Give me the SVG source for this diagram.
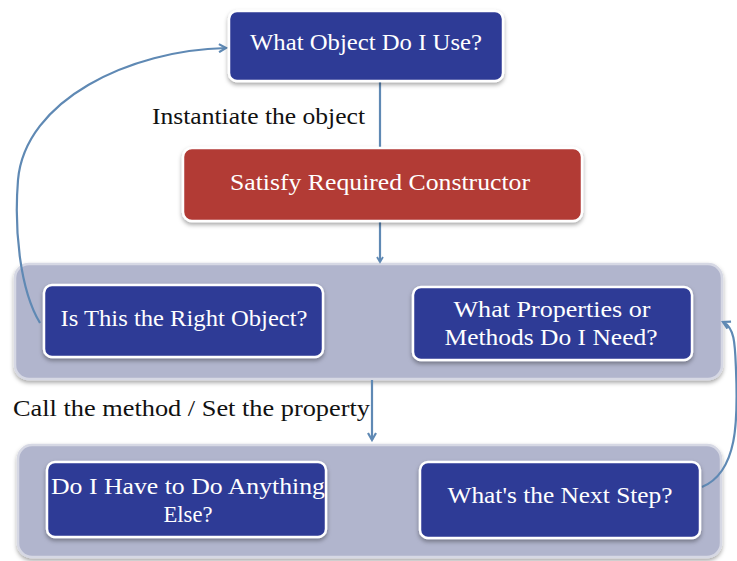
<svg xmlns="http://www.w3.org/2000/svg" width="737" height="561" viewBox="0 0 737 561">
<style>
.box{fill:#2e3a96;stroke:#ffffff;stroke-width:2.5;filter:url(#sh)}
.red{fill:#b23a34;stroke:#ffffff;stroke-width:2.5;filter:url(#sh)}
.panel{fill:#b1b5cd;stroke:#d6d8e4;stroke-width:2.5;filter:url(#sh)}
.wt{fill:#ffffff;font-family:"Liberation Serif",serif;font-size:23px;text-anchor:middle}
.bt{fill:#111111;font-family:"Liberation Serif",serif;font-size:23px}
.con{fill:none;stroke:#5f89b4;stroke-width:2.2}
</style>
<defs>
<filter id="sh" x="-10%" y="-20%" width="120%" height="150%">
<feDropShadow dx="0" dy="2.5" stdDeviation="2" flood-color="#000" flood-opacity="0.35"/>
</filter>
<marker id="ah" markerWidth="10" markerHeight="10" refX="8" refY="5" orient="auto" markerUnits="userSpaceOnUse">
<path d="M1,1 L8,5 L1,9" fill="none" stroke="#5f89b4" stroke-width="2.2"/>
</marker>
<marker id="sm" markerWidth="8" markerHeight="8" refX="6" refY="4" orient="auto" markerUnits="userSpaceOnUse">
<path d="M1,1 L6,4 L1,7" fill="none" stroke="#5f89b4" stroke-width="1.8"/>
</marker>
</defs>
<g id="panel1"><rect class="panel" x="15" y="264" width="707" height="115" rx="14"/></g>
<g id="panel2"><rect class="panel" x="18" y="445" width="703" height="112" rx="14"/></g>
<g id="connectors">
<path class="con" d="M380,82 L380,148"/>
<path class="con" d="M380,222 L380,262" marker-end="url(#sm)"/>
<path class="con" d="M372,380 L372,440" marker-end="url(#ah)"/>
<path class="con" d="M40,323 C20,290 14,230 18,180 C25,100 130,50 226,48" marker-end="url(#ah)"/>
<path class="con" d="M702,487 C738,472 738,420 736,370 C735,345 735,328 723,322" marker-end="url(#ah)"/>
</g>
<g id="n1"><rect class="box" x="229" y="11" width="274" height="70" rx="8"/><text class="wt" x="366" y="50" textLength="232" lengthAdjust="spacingAndGlyphs">What Object Do I Use?</text></g>
<g id="label1"><text class="bt" x="152" y="124" textLength="213" lengthAdjust="spacingAndGlyphs">Instantiate the object</text></g>
<g id="n2"><rect class="red" x="183" y="148" width="399" height="73" rx="9"/><text class="wt" x="380" y="190" textLength="300" lengthAdjust="spacingAndGlyphs">Satisfy Required Constructor</text></g>
<g id="n3"><rect class="box" x="44" y="285" width="279" height="72" rx="8"/><text class="wt" x="184" y="326" textLength="247" lengthAdjust="spacingAndGlyphs">Is This the Right Object?</text></g>
<g id="n4"><rect class="box" x="413" y="287" width="279" height="73" rx="8"/><text class="wt" x="552" y="317" textLength="197" lengthAdjust="spacingAndGlyphs">What Properties or</text><text class="wt" x="551" y="345" textLength="213" lengthAdjust="spacingAndGlyphs">Methods Do I Need?</text></g>
<g id="label2"><text class="bt" x="13" y="416" textLength="357" lengthAdjust="spacingAndGlyphs">Call the method / Set the property</text></g>
<g id="n5"><rect class="box" x="47" y="462" width="279" height="75" rx="8"/><text class="wt" x="188" y="494" textLength="274" lengthAdjust="spacingAndGlyphs">Do I Have to Do Anything</text><text class="wt" x="188" y="522" textLength="49" lengthAdjust="spacingAndGlyphs">Else?</text></g>
<g id="n6"><rect class="box" x="420" y="462" width="280" height="76" rx="8"/><text class="wt" x="560" y="503" textLength="225" lengthAdjust="spacingAndGlyphs">What's the Next Step?</text></g>
</svg>
